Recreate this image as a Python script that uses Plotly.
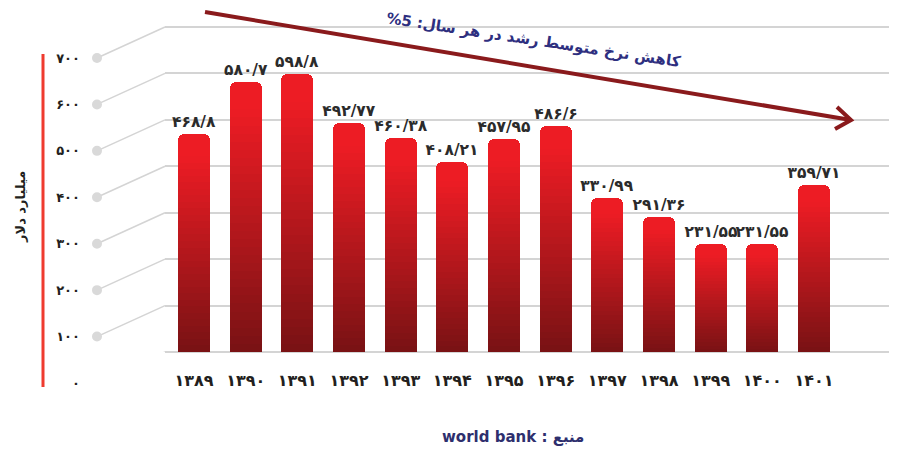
import plotly.graph_objects as go

# ---------------- data ----------------
years = ["۱۳۸۹", "۱۳۹۰", "۱۳۹۱", "۱۳۹۲", "۱۳۹۳", "۱۳۹۴", "۱۳۹۵",
         "۱۳۹۶", "۱۳۹۷", "۱۳۹۸", "۱۳۹۹", "۱۴۰۰", "۱۴۰۱"]
values = [468.8, 580.7, 598.8, 492.77, 460.38, 408.21, 457.95,
          486.6, 330.99, 291.36, 231.55, 231.55, 359.71]
value_labels = ["۴۶۸/۸", "۵۸۰/۷", "۵۹۸/۸", "۴۹۲/۷۷", "۴۶۰/۳۸", "۴۰۸/۲۱", "۴۵۷/۹۵",
                "۴۸۶/۶", "۳۳۰/۹۹", "۲۹۱/۳۶", "۲۳۱/۵۵", "۲۳۱/۵۵", "۳۵۹/۷۱"]
y_ticks = [0, 100, 200, 300, 400, 500, 600, 700]
y_tick_labels = ["۰", "۱۰۰", "۲۰۰", "۳۰۰", "۴۰۰", "۵۰۰", "۶۰۰", "۷۰۰"]

y_title = "میلیارد دلار"
trend_text = "کاهش نرخ متوسط رشد در هر سال: 5%"
source_text = "منبع : world bank"

# ---------------- style ----------------
OFF = 8                      # default page body margin
W, H = 897 - OFF, 451 - OFF
ML, MR, MT, MB = 165 - OFF, 0, 4, 99
PW, PH = W - ML - MR, H - MT - MB
Y_MAX = 700 + (27 - OFF - MT) / ((352 - 27) / 700)
FONT = "DejaVu Sans"
BRIGHT = (237, 28, 36)
DARK = (120, 18, 20)
BAR_W = 0.62
N_SLICES = 30
GRAD_TOP = 0.9


def px_to_paper(x, y):
    """page pixel -> paper coords"""
    x, y = x - OFF, y - OFF
    return (x - ML) / PW, (H - MB - y) / PH


def mix(t):
    t = max(0.0, min(1.0, t))
    c = [round(DARK[i] + (BRIGHT[i] - DARK[i]) * t) for i in range(3)]
    return f"rgb({c[0]},{c[1]},{c[2]})"


fig = go.Figure()

# full bar (bright top, rounded)
fig.add_trace(go.Bar(
    x=years, y=values, width=BAR_W,
    marker=dict(color=mix(1), line=dict(width=0), cornerradius=6),
    text=value_labels, textposition="outside", cliponaxis=False, constraintext="none",
    textfont=dict(family=FONT, size=15.5, color="#2b2b2b", weight="bold"),
    hoverinfo="skip", showlegend=False,
))

# gradient slices (dark at bottom -> bright)
for k in range(N_SLICES):
    f0 = GRAD_TOP * k / N_SLICES
    f1 = min(GRAD_TOP * (k + 1.3) / N_SLICES, GRAD_TOP)
    t = (k + 0.5) / N_SLICES
    fig.add_trace(go.Bar(
        x=years, y=[v * (f1 - f0) for v in values], base=[v * f0 for v in values],
        width=BAR_W, marker=dict(color=mix(t), line=dict(width=0)),
        hoverinfo="skip", showlegend=False,
    ))

shapes = []
GRID = "#d4d4d4"
for v in y_ticks:
    shapes.append(dict(type="line", xref="paper", yref="y",
                       xsizemode="pixel", xanchor=0, x0=-68, x1=0,
                       ysizemode="pixel", yanchor=v, y0=-31, y1=0,
                       line=dict(color=GRID, width=1.5), layer="below"))
    shapes.append(dict(type="circle", xref="paper", yref="y",
                       xsizemode="pixel", xanchor=0, x0=-73, x1=-63,
                       ysizemode="pixel", yanchor=v, y0=-36, y1=-26,
                       fillcolor="#d9d9d9", line=dict(width=0), layer="below"))

# red vertical line on the left
rx, ry0 = px_to_paper(43, 387)
_, ry1 = px_to_paper(43, 54)
shapes.append(dict(type="line", xref="paper", yref="paper", x0=rx, x1=rx, y0=ry0, y1=ry1,
                   line=dict(color="#ef3b2f", width=3)))

# trend arrow
ARROW = "#8a1a1c"
tx0, ty0 = px_to_paper(205, 12)
tx1, ty1 = px_to_paper(851, 120)
shapes.append(dict(type="line", xref="paper", yref="paper", x0=tx0, y0=ty0, x1=tx1, y1=ty1,
                   line=dict(color=ARROW, width=4)))
ax1, ay1 = px_to_paper(837, 107)
ax2, ay2 = px_to_paper(835, 129)
shapes.append(dict(type="path", xref="paper", yref="paper",
                   path=f"M {ax1},{ay1} L {tx1},{ty1} L {ax2},{ay2}",
                   line=dict(color=ARROW, width=4)))

annotations = []
yx, yy = px_to_paper(20, 207)
annotations.append(dict(xref="paper", yref="paper", x=yx, y=yy, text=y_title,
                        xanchor="center", yanchor="middle",
                        textangle=-90, showarrow=False,
                        font=dict(family=FONT, size=13, color="#231f20", weight="bold")))
lx, ly = px_to_paper(533, 40)
annotations.append(dict(xref="paper", yref="paper", x=lx, y=ly,
                        text="\u202b" + trend_text + "\u202c",
                        xanchor="center", yanchor="middle",
                        textangle=8.5, showarrow=False,
                        font=dict(family=FONT, size=15, color="#2e2f7f", weight="bold")))
sx, sy = px_to_paper(513, 437)
annotations.append(dict(xref="paper", yref="paper", x=sx, y=sy,
                        text="\u202b" + source_text + "\u202c", showarrow=False,
                        xanchor="center", yanchor="middle",
                        font=dict(family=FONT, size=15, color="#2e2f6e", weight="bold")))

fig.update_layout(
    width=W, height=H,
    margin=dict(l=ML, r=MR, t=MT, b=MB, autoexpand=False),
    paper_bgcolor="white", plot_bgcolor="white",
    barmode="overlay", bargap=0,
    shapes=shapes, annotations=annotations,
    xaxis=dict(type="category", range=[-0.561, 13.606], showgrid=False, zeroline=False,
               showline=False, ticks="", ticklabelstandoff=17, automargin=False,
               tickfont=dict(family=FONT, size=16, color="#231f20", weight="bold")),
    yaxis=dict(range=[0, Y_MAX], tickvals=y_ticks, ticktext=y_tick_labels,
               showgrid=True, gridcolor=GRID, gridwidth=1.5, automargin=False,
               zeroline=True, zerolinecolor=GRID, zerolinewidth=1.5,
               showline=False, ticks="", ticklabelshift=31, ticklabelstandoff=84,
               tickfont=dict(family=FONT, size=13, color="#231f20", weight="bold")),
)

fig.write_html("out.html")
